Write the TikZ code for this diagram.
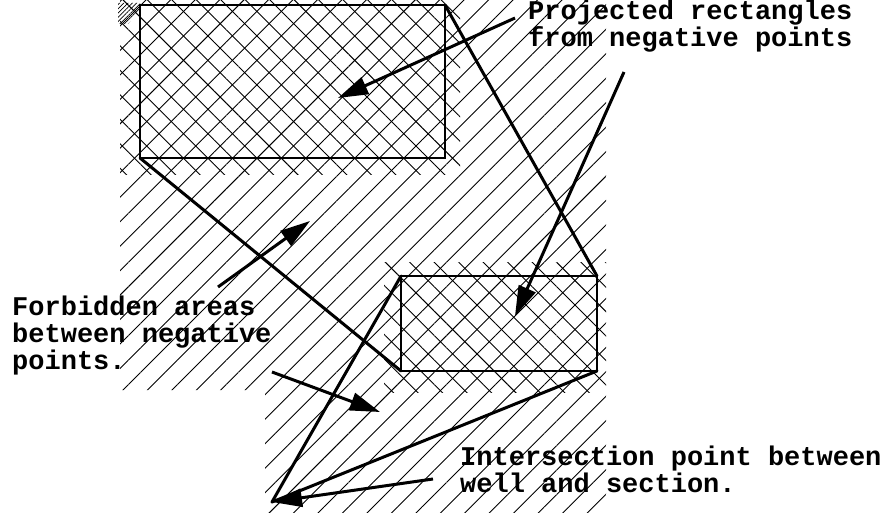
\documentclass[tikz,border=0pt]{standalone}
\usepackage{fontspec}
\setmonofont{Liberation Mono}
\usetikzlibrary{patterns.meta,arrows.meta}
\tikzset{
  hatchNE/.style={pattern={Lines[angle=45,distance=17.3pt,line width=0.9pt]}},
  hatchNW/.style={pattern={Lines[angle=-45,distance=17.3pt,line width=0.9pt]}},
  hatchfine/.style={pattern={Lines[angle=45,distance=3pt,line width=0.8pt]}},
  rectline/.style={line width=2.6pt},
  edge/.style={line width=3pt,line cap=round},
  arr/.style={line width=3pt,-{Triangle[length=30pt,width=18pt]}},
  lbl/.style={font=\ttfamily\bfseries\fontsize{27}{27}\selectfont,align=left,anchor=base west,inner sep=0pt}
}
\begin{document}
\begin{tikzpicture}[x=1pt,y=-1pt]
\useasboundingbox (0,0) rectangle (888,513);
% hatched forbidden area
\fill[hatchNE] (120,0) -- (606,0) -- (606,513) -- (265,513) -- (265,390) -- (120,390) -- cycle;
% cross hatch of projected rectangles
\fill[hatchNW] (120,0) rectangle (460,175);
\fill[hatchNW] (384,262) rectangle (606,392);
% small dense patch at top-left corner
\fill[hatchfine] (118,3) -- (140,3) -- (140,10) -- (128,24) -- (118,24) -- cycle;
% rectangles
\coordinate (r1a) at (140,5);
\coordinate (r1b) at (445,5);
\coordinate (r1c) at (445,158);
\coordinate (r1d) at (140,158);
\coordinate (r2a) at (401,276);
\coordinate (r2b) at (597,276);
\coordinate (r2c) at (597,371);
\coordinate (r2d) at (401,371);
\coordinate (P) at (272,502);
\draw[rectline] (r1a) -- (r1b) -- (r1c) -- (r1d) -- cycle;
\draw[rectline] (r2a) -- (r2b) -- (r2c) -- (r2d) -- cycle;
\draw[edge] (r1b) -- (r2b);
\draw[edge] (r1d) -- (r2d);
\draw[edge] (P) -- (r2a);
\draw[edge] (P) -- (r2c);
% labels (anchor = baseline of the last line)
\node[lbl] (t1) at (528,47) {Projected rectangles\\from negative points};
\node[lbl] (t2) at (12,369) {Forbidden areas\\between negative\\points.};
\node[lbl] (t3) at (460,492) {Intersection point between\\well and section.};
% arrow points
\coordinate (a1s) at (515,18);
\coordinate (a1e) at (338,98);
\coordinate (a2s) at (624,72);
\coordinate (a2e) at (515,316);
\coordinate (a3s) at (218,287);
\coordinate (a3e) at (310,221);
\coordinate (a4s) at (272,372);
\coordinate (a4e) at (380,412);
\coordinate (a5s) at (433,479);
\draw[arr] (a1s) -- (a1e);
\draw[arr] (a2s) -- (a2e);
\draw[arr] (a3s) -- (a3e);
\draw[arr] (a4s) -- (a4e);
\draw[arr] (a5s) -- (P);
\end{tikzpicture}
\end{document}
